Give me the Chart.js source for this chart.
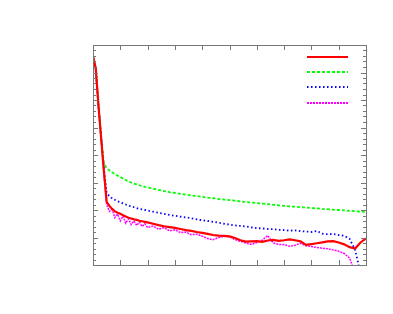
<!DOCTYPE html>
<html lang="en">
<head>
  <meta charset="UTF-8" />
  <title>Curves</title>
  <style>
    html, body { margin: 0; padding: 0; background: #fff; }
    #wrap { width: 393px; height: 314px; }
  </style>
</head>
<body>
  <div id="wrap"><canvas id="chart" width="393" height="314"></canvas></div>

  <script src="https://cdn.jsdelivr.net/npm/chart.js@4.4.1/dist/chart.umd.min.js"></script>
  <script>
    // x positions shared by all four series
    const xs = [0, 0.1, 0.2, 0.3, 0.4, 0.5, 0.6, 0.7, 0.8, 0.9, 1.0, 1.1, 1.2, 1.3, 1.4, 1.5, 1.6, 1.7, 1.8, 1.9, 2.0,
      2.2, 2.4, 2.6, 2.8, 3.0, 3.2, 3.4, 3.6, 3.8, 4.0, 4.2, 4.4, 4.6, 4.8, 5.0, 5.2, 5.4, 5.6, 5.8, 6.0,
      6.2, 6.4, 6.6, 6.8, 7.0, 7.2, 7.4, 7.6, 7.8, 8.0, 8.2, 8.4, 8.6, 8.8, 9.0, 9.2, 9.4, 9.6, 9.8, 10.0];

    const redVals = [7.6, 7.15, 5.8, 4.6, 3.4, 2.3, 2.15, 2.04, 1.95, 1.90, 1.86, 1.81, 1.76, 1.72, 1.69, 1.66, 1.64, 1.61, 1.59, 1.57, 1.55,
      1.50, 1.45, 1.41, 1.38, 1.35, 1.31, 1.27, 1.24, 1.20, 1.17, 1.13, 1.09, 1.07, 1.06, 1.04, 0.98, 0.90, 0.85, 0.86, 0.87,
      0.84, 0.89, 0.91, 0.88, 0.90, 0.93, 0.90, 0.86, 0.73, 0.76, 0.79, 0.82, 0.86, 0.87, 0.82, 0.75, 0.65, 0.60, 0.82, 0.97];

    const greenVals = [7.6, 7.15, 5.8, 4.6, 3.7, 3.52, 3.44, 3.37, 3.31, 3.25, 3.2, 3.14, 3.09, 3.04, 3.0, 2.96, 2.93, 2.90, 2.87, 2.84, 2.82,
      2.78, 2.73, 2.69, 2.65, 2.62, 2.59, 2.56, 2.53, 2.51, 2.48, 2.45, 2.43, 2.40, 2.38, 2.36, 2.34, 2.31, 2.29, 2.27, 2.25,
      2.23, 2.21, 2.19, 2.17, 2.15, 2.13, 2.12, 2.10, 2.09, 2.07, 2.06, 2.04, 2.03, 2.01, 2.0, 1.99, 1.97, 1.96, 1.94, 1.93];

    const blueVals = [7.6, 7.15, 5.8, 4.6, 3.5, 2.62, 2.50, 2.43, 2.37, 2.32, 2.28, 2.24, 2.20, 2.16, 2.13, 2.10, 2.07, 2.04, 2.02, 2.0, 1.98,
      1.94, 1.90, 1.86, 1.82, 1.79, 1.76, 1.73, 1.70, 1.66, 1.63, 1.60, 1.57, 1.54, 1.50, 1.47, 1.44, 1.42, 1.40, 1.37, 1.34,
      1.33, 1.31, 1.30, 1.28, 1.27, 1.25, 1.26, 1.23, 1.22, 1.20, 1.24, 1.14, 1.12, 1.13, 1.09, 1.06, 0.95, 0.55, -0.3, null];

    const magentaVals = [7.6, 7.15, 5.8, 4.6, 3.35, 2.2, 1.95, 2.02, 1.72, 1.85, 1.60, 1.78, 1.52, 1.68, 1.47, 1.60, 1.44, 1.56, 1.40, 1.50, 1.36,
      1.42, 1.30, 1.36, 1.24, 1.28, 1.18, 1.20, 1.10, 1.12, 1.05, 0.96, 0.92, 1.0, 1.04, 1.03, 0.92, 0.86, 0.80, 0.75, 0.82,
      0.90, 1.07, 0.80, 0.75, 0.74, 0.68, 0.72, 0.79, 0.70, 0.67, 0.64, 0.61, 0.59, 0.55, 0.50, 0.42, 0.25, -0.3, null, null];

    function pts(vals) {
      return xs.map((x, i) => ({ x: x, y: vals[i] }));
    }

    const series = [
      { data: redVals, color: '#ff0000', dash: [], width: 2.2 },
      { data: greenVals, color: '#00ff00', dash: [3, 2], width: 1.8 },
      { data: blueVals, color: '#0000ff', dash: [1.5, 2.5], width: 1.8 },
      { data: magentaVals, color: '#ff00ff', dash: [2, 1], width: 1.5 }
    ];

    // frame, inward ticks on all four sides, and an unlabeled key
    const framePlugin = {
      id: 'frame',
      afterDatasetsDraw(chart) {
        const ctx = chart.ctx;
        const a = chart.chartArea;
        const sx = chart.scales.x, sy = chart.scales.y;
        ctx.save();
        ctx.strokeStyle = '#777';
        ctx.lineWidth = 1;
        ctx.beginPath();
        for (let v = 1; v < 10; v++) {
          const px = Math.round(sx.getPixelForValue(v)) + 0.5;
          ctx.moveTo(px, a.bottom); ctx.lineTo(px, a.bottom - 5);
          ctx.moveTo(px, a.top); ctx.lineTo(px, a.top + 5);
        }
        for (let k = 1; k < 40; k++) {
          const py = Math.round(sy.getPixelForValue(k * 0.2)) + 0.5;
          const len = k % 5 === 0 ? 5 : 3;
          ctx.moveTo(a.left, py); ctx.lineTo(a.left + len, py);
          ctx.moveTo(a.right, py); ctx.lineTo(a.right - len, py);
        }
        ctx.stroke();
        ctx.strokeRect(Math.round(a.left) + 0.5, Math.round(a.top) + 0.5,
          Math.round(a.right - a.left), Math.round(a.bottom - a.top));

        series.forEach((s, i) => {
          const y = Math.round(a.top + 12 + i * 15.2);
          ctx.beginPath();
          ctx.strokeStyle = s.color;
          ctx.lineWidth = 2;
          ctx.setLineDash(s.dash);
          ctx.moveTo(a.right - 59, y);
          ctx.lineTo(a.right - 18, y);
          ctx.stroke();
        });
        ctx.restore();
      }
    };

    new Chart(document.getElementById('chart'), {
      type: 'line',
      data: {
        datasets: series.map(s => ({
          data: pts(s.data),
          borderColor: s.color,
          borderDash: s.dash,
          borderWidth: s.width,
          pointRadius: 0,
          fill: false,
          tension: 0,
          spanGaps: false
        }))
      },
      options: {
        responsive: false,
        animation: false,
        layout: { padding: { left: 93, right: 27, top: 45, bottom: 49 } },
        plugins: { legend: { display: false }, tooltip: { enabled: false } },
        scales: {
          x: { type: 'linear', min: 0, max: 10, display: false },
          y: { type: 'linear', min: 0, max: 8, display: false }
        }
      },
      plugins: [framePlugin]
    });
  </script>
</body>
</html>
